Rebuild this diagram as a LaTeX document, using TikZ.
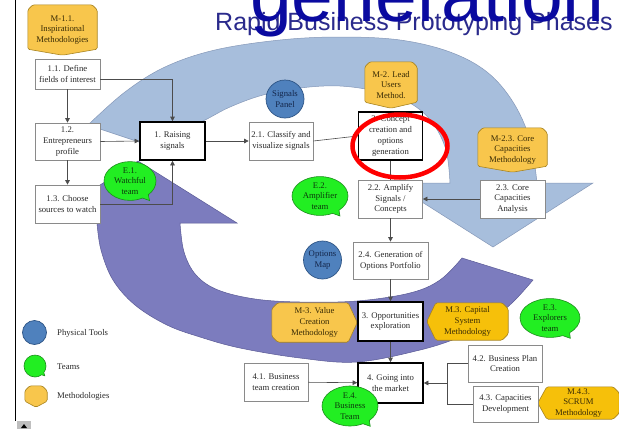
\documentclass[tikz,border=0pt]{standalone}
\usepackage{fontspec}
\setmainfont{Liberation Serif}
\newfontfamily\headfont{Liberation Sans}
\usetikzlibrary{shapes.callouts,arrows.meta,calc}
\pgfdeclarelayer{back}
\pgfdeclarelayer{mid}
\pgfsetlayers{back,mid,main}

\definecolor{bandblue}{HTML}{A7BEDC}
\definecolor{bandblueline}{HTML}{8598B8}
\definecolor{bandpurple}{HTML}{7C7CBE}
\definecolor{bandpurpleline}{HTML}{5A5A96}
\definecolor{methfill}{HTML}{F8C64C}
\definecolor{methfillB}{HTML}{F6C00A}
\definecolor{methline}{HTML}{A88420}
\definecolor{methtext}{HTML}{3A2C05}
\definecolor{teamfill}{HTML}{22EE22}
\definecolor{teamline}{HTML}{1C8C1C}
\definecolor{teamtext}{HTML}{0C3A0C}
\definecolor{toolfill}{HTML}{4F81BD}
\definecolor{toolline}{HTML}{2D5485}
\definecolor{tooltext}{HTML}{14264A}
\definecolor{titleblue}{HTML}{2A2A8C}
\definecolor{genblue}{HTML}{0A0AA0}
\definecolor{boxline}{HTML}{8A8A8A}
\definecolor{txt}{HTML}{2A2A2A}

% methodology badges, drawn behind their text nodes
\newcommand\methDown[2][methfill]{%
  \begin{pgfonlayer}{mid}
  \path[fill=#1,draw=methline,line width=0.6pt,rounded corners=1.5pt]
    ($(#2.north west)+(5,0)$) -- ($(#2.north east)+(-5,0)$) -- ($(#2.north east)+(0,5)$)
    -- ($(#2.south east)+(0,-6)$) -- (#2.south) -- ($(#2.south west)+(0,-6)$)
    -- ($(#2.north west)+(0,5)$) -- cycle;
  \end{pgfonlayer}}
\newcommand\methRight[2][methfill]{%
  \begin{pgfonlayer}{mid}
  \path[fill=#1,draw=methline,line width=0.6pt,rounded corners=1.5pt]
    ($(#2.north west)+(6,0)$) -- ($(#2.north east)+(-9,0)$) -- (#2.east)
    -- ($(#2.south east)+(-9,0)$) -- ($(#2.south west)+(6,0)$) -- ($(#2.south west)+(0,-6)$)
    -- ($(#2.north west)+(0,6)$) -- cycle;
  \end{pgfonlayer}}
\newcommand\methLeft[2][methfillB]{%
  \begin{pgfonlayer}{mid}
  \path[fill=#1,draw=methline,line width=0.6pt,rounded corners=1.5pt]
    ($(#2.north west)+(9,0)$) -- ($(#2.north east)+(-6,0)$) -- ($(#2.north east)+(0,6)$)
    -- ($(#2.south east)+(0,-6)$) -- ($(#2.south east)+(-6,0)$) -- ($(#2.south west)+(9,0)$)
    -- (#2.west) -- cycle;
  \end{pgfonlayer}}

\tikzset{
  every node/.style={font=\fontsize{8.7}{10.8}\selectfont,text=txt,align=center,inner sep=0pt},
  box/.style={draw=boxline,line width=0.7pt,fill=white,minimum width=65pt,minimum height=38pt},
  phase/.style={box,draw=black,line width=1.6pt},
  link/.style={draw=black!70,line width=0.6pt},
  arr/.style={link,-{Triangle[length=4.5pt,width=4.5pt]}},
  meth/.style={text=methtext},
  tool/.style={circle,draw=toolline,line width=0.7pt,fill=toolfill,minimum size=38pt,text=tooltext},
  team/.style={ellipse callout,draw=teamline,line width=0.6pt,fill=teamfill,text=teamtext,
    minimum width=54pt,minimum height=38pt,callout relative pointer={(4pt,-4pt)},callout pointer arc=16},
  legendtext/.style={anchor=west,font=\fontsize{8.7}{10}\selectfont}
}

\begin{document}
\begin{tikzpicture}[x=1pt,y=-1pt]
\useasboundingbox (0,0) rectangle (619,429);
\clip (0,0) rectangle (619,429);

% large circular process arrows
\begin{pgfonlayer}{back}
\fill[white] (0,0) rectangle (619,429);
\path[fill=bandblue,draw=bandblueline,line width=0.5pt]
  plot[smooth,tension=0.6] coordinates {(88,125) (125,92) (165,67) (215,50) (280,40) (340,37) (400,40) (450,52) (487,72) (513,102) (530,140) (537,183)}
  -- (593,183) -- (493,247) -- (392,183) -- (450,183)
  -- plot[smooth,tension=0.6] coordinates {(450,183) (446,150) (432,122) (410,103) (380,92) (340,86) (300,88) (263,95) (230,107) (203,121) (175,133) (148,145)}
  -- cycle;
\path[fill=bandpurple,draw=bandpurpleline,line width=0.5pt]
  (138,161) -- (237,223) -- (180,223)
  -- plot[smooth,tension=0.6] coordinates {(180,223) (184,252) (196,275) (218,290) (255,299) (300,302) (357,301) (410,293) (440,280) (462,258)}
  -- (533,280)
  -- plot[smooth,tension=0.6] coordinates {(533,280) (512,303) (487,323) (460,337) (420,350) (357,362) (300,358) (240,348) (200,337) (167,325) (135,305) (113,280) (101,250) (97,223)}
  -- (40,223) -- cycle;
\end{pgfonlayer}

% slide edge and corner control
\draw[black,line width=1.4pt] (15.5,0) -- (15.5,421);
\fill[black!25] (17,421) rectangle (31,429);
\fill[black] (21,428) -- (24,424) -- (27,428) -- cycle;

% title
\node[anchor=base west,font=\headfont\fontsize{25}{25}\selectfont,text=titleblue] (title) at (215,30) {Rapid Business Prototyping Phases};
\node[anchor=base west,font=\headfont\fontsize{75}{75}\selectfont,text=genblue] (gen) at (250,21) {generation};

% process boxes
\node[box,minimum height=30pt] (b11) at (67.5,74) {1.1. Define\\fields of interest};
\node[box,minimum height=37pt] (b12) at (67.5,141.5) {1.2.\\Entrepreneurs\\profile};
\node[box] (b13) at (67.5,204) {1.3. Choose\\sources to watch};
\node[phase] (p1) at (172.5,141) {1. Raising\\signals};
\node[box,minimum width=64pt] (b21) at (281,141) {2.1. Classify and\\visualize signals};
\node[phase,minimum width=64pt,minimum height=48pt] (p2) at (390.5,136) {2. Concept\\creation and\\options\\generation};
\node[box,minimum width=64pt] (b22) at (390.5,199) {2.2. Amplify\\Signals /\\Concepts};
\node[box] (b23) at (512.5,199) {2.3. Core\\Capacities\\Analysis};
\node[box,minimum width=75pt,minimum height=37pt] (b24) at (390.5,260.5) {2.4. Generation of\\Options Portfolio};
\node[phase,minimum height=39pt] (p3) at (390.5,321.5) {3. Opportunities\\exploration};
\node[phase,minimum height=40pt] (p4) at (390.5,383) {4. Going into\\the market};
\node[box,minimum width=64pt] (b41) at (276,382) {4.1. Business\\team creation};
\node[box,minimum width=74pt,minimum height=37pt] (b42) at (505,363.5) {4.2. Business Plan\\Creation};
\node[box,minimum height=36pt] (b43) at (505.5,404) {4.3. Capacities\\Development};

% methodologies
\node[meth,minimum width=69pt,minimum height=50pt] (m11) at (62.5,30) {M-1.1.\\Inspirational\\Methodologies};
\methDown{m11}
\node[meth,minimum width=52pt,minimum height=46pt] (m2) at (391,85) {M-2. Lead\\Users\\Method.};
\methDown{m2}
\node[meth,minimum width=69pt,minimum height=44pt] (m23) at (512.5,150) {M-2.3. Core\\Capacities\\Methodology};
\methDown{m23}
\node[meth,minimum width=85pt,minimum height=39pt] (m3) at (314.5,322.5) {M-3. Value\\Creation\\Methodology};
\methRight{m3}
\node[meth,minimum width=81pt,minimum height=37pt] (m3c) at (467.5,321.5) {M.3. Capital\\System\\Methodology};
\methLeft{m3c}
\node[meth,minimum width=81pt,minimum height=32pt] (m43) at (578.5,403) {M.4.3.\\SCRUM\\Methodology};
\methLeft{m43}

% physical tools
\node[tool] (signals) at (285,99) {Signals\\Panel};
\node[tool] (options) at (322.5,260) {Options\\Map};

% teams
\node[team,minimum width=52pt] (e1) at (130,181) {E.1.\\Watchful\\team};
\node[team,minimum width=56pt] (e2) at (320,196) {E.2.\\Amplifier\\team};
\node[team,minimum width=60pt,minimum height=34pt] (e3) at (550,318) {E.3.\\Explorers\\team};
\node[team,minimum width=56pt,minimum height=40pt] (e4) at (350,406) {E.4.\\Business\\Team};

% connectors
\draw[arr] (b11) -- (b12);
\draw[arr] ($(b11.east)+(0,5)$) -| (p1.north);
\draw[arr] (b12.east) -- (p1.west);
\draw[arr] (b12) -- (b13);
\draw[arr] (b13.east) -| (p1.south);
\draw[arr] (p1) -- (b21);
\draw[arr] (b21.east) -- (p2.west);
\draw[link] (p2) -- (b22);
\draw[arr] (b23) -- (b22);
\draw[arr] (b22) -- (b24);
\draw[arr] (b24) -- (p3);
\draw[arr] (p3) -- (p4);
\draw[arr] (b41) -- (p4);
\coordinate (j4) at (447,383);
\draw[link] (b42.west) -| (j4);
\draw[link] (b43.west) -| (j4);
\draw[arr] (j4) -- (p4.east);

% highlight
\draw[red,line width=4.5pt] (400,146) ellipse [x radius=47.5pt,y radius=31.5pt];

% legend
\node[tool,minimum size=24pt] (lgtool) at (34.5,332.5) {};
\node[legendtext] (lgtooltext) at (57,333) {Physical Tools};
\node[team,minimum width=22pt,minimum height=22pt,callout relative pointer={(2pt,-2pt)}] (lgteam) at (35,366) {};
\node[legendtext] (lgteamtext) at (57,367) {Teams};
\node[minimum width=22pt,minimum height=21pt] (lgmeth) at (36,396.5) {};
\methDown{lgmeth}
\node[legendtext] (lgmethtext) at (57,396) {Methodologies};
\end{tikzpicture}
\end{document}
